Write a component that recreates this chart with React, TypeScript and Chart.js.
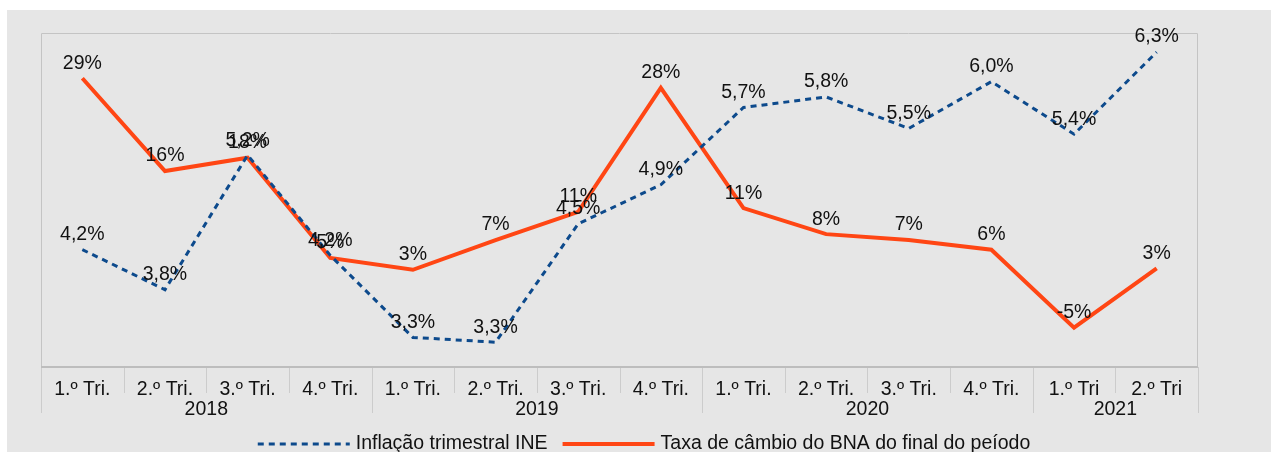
import React, { useEffect, useRef } from "react";
import { Chart, registerables } from "chart.js";

Chart.register(...registerables);

const quarterLabels = [
  "1.º Tri.", "2.º Tri.", "3.º Tri.", "4.º Tri.",
  "1.º Tri.", "2.º Tri.", "3.º Tri.", "4.º Tri.",
  "1.º Tri.", "2.º Tri.", "3.º Tri.", "4.º Tri.",
  "1.º Tri", "2.º Tri",
];
const yearGroups = [
  { label: "2018", from: 0, to: 3 },
  { label: "2019", from: 4, to: 7 },
  { label: "2020", from: 8, to: 11 },
  { label: "2021", from: 12, to: 13 },
];
const inflationName = "Inflação trimestral INE";
const inflation = [4.23, 3.81, 5.22, 4.17, 3.31, 3.26, 4.5, 4.91, 5.72, 5.83, 5.5, 5.99, 5.44, 6.3];
const fxName = "Taxa de câmbio do BNA do final do peíodo";
const fxRate = [28.9, 16.4, 18.2, 4.7, 3.1, 7.1, 10.9, 27.6, 11.4, 7.9, 7.1, 5.8, -4.7, 3.3];

const FONT = "'Liberation Sans', Arial, sans-serif";
const FS = 19.5;
const BLUE = "#0d4a8c";
const ORANGE = "#ff4614";

const decor = {
  id: "decor",
  afterDraw(chart: any) {
    const { ctx, chartArea: a, scales } = chart;
    const x = scales.x;
    ctx.save();
    // plot border
    ctx.strokeStyle = "#c4c4c4";
    ctx.lineWidth = 1;
    ctx.beginPath();
    ctx.moveTo(a.left + 0.5, a.bottom);
    ctx.lineTo(a.left + 0.5, a.top + 0.5);
    ctx.lineTo(a.right - 0.5, a.top + 0.5);
    ctx.lineTo(a.right - 0.5, a.bottom);
    ctx.stroke();
    // separators
    const n = quarterLabels.length;
    const step = (a.right - a.left) / n;
    ctx.strokeStyle = "#cccccc";
    for (let i = 0; i <= n; i++) {
      const px = Math.round(a.left + i * step) + 0.5;
      const isYear = i === 0 || i === n || yearGroups.some((g) => g.from === i);
      ctx.beginPath();
      ctx.moveTo(px, a.bottom);
      ctx.lineTo(px, a.bottom + (isYear ? 46 : 26));
      ctx.stroke();
    }
    // axis line
    ctx.strokeStyle = "#bdbdbd";
    ctx.lineWidth = 2;
    ctx.beginPath();
    ctx.moveTo(a.left, a.bottom);
    ctx.lineTo(a.right, a.bottom);
    ctx.stroke();
    // year labels
    ctx.fillStyle = "#111";
    ctx.font = `${FS}px ${FONT}`;
    ctx.textAlign = "center";
    ctx.textBaseline = "middle";
    yearGroups.forEach((g) => {
      const cx = (x.getPixelForValue(g.from) + x.getPixelForValue(g.to)) / 2;
      ctx.fillText(g.label, cx, a.bottom + 43);
    });
    // data labels
    chart.data.datasets.forEach((ds: any, di: number) => {
      const meta = chart.getDatasetMeta(di);
      meta.data.forEach((pt: any, i: number) => {
        const v = ds.data[i];
        const txt = di === 0 ? v.toFixed(1).replace(".", ",") + "%" : Math.round(v) + "%";
        ctx.fillText(txt, pt.x, pt.y - 15);
      });
    });
    // legend
    const ly = 434;
    const w1 = ctx.measureText(inflationName).width;
    const w2 = ctx.measureText(fxName).width;
    const lineLen = 92;
    const total = lineLen + 6 + w1 + 15 + lineLen + 6 + w2;
    let sx = 637 - total / 2;
    ctx.lineWidth = 3;
    ctx.strokeStyle = BLUE;
    ctx.setLineDash([6, 5]);
    ctx.beginPath();
    ctx.moveTo(sx, ly);
    ctx.lineTo(sx + lineLen, ly);
    ctx.stroke();
    ctx.setLineDash([]);
    sx += lineLen + 6;
    ctx.textAlign = "left";
    ctx.fillText(inflationName, sx, ly);
    sx += w1 + 15;
    ctx.lineWidth = 4;
    ctx.strokeStyle = ORANGE;
    ctx.beginPath();
    ctx.moveTo(sx, ly);
    ctx.lineTo(sx + lineLen, ly);
    ctx.stroke();
    sx += lineLen + 6;
    ctx.fillText(fxName, sx, ly);
    ctx.restore();
  },
};

export default function App() {
  const ref = useRef<HTMLCanvasElement | null>(null);
  useEffect(() => {
    if (!ref.current) return;
    Chart.defaults.font.family = FONT;
    Chart.defaults.font.size = FS;
    Chart.defaults.color = "#111";
    const chart = new Chart(ref.current, {
      type: "line",
      data: {
        labels: quarterLabels,
        datasets: [
          {
            label: inflationName,
            data: inflation,
            borderColor: BLUE,
            backgroundColor: BLUE,
            borderWidth: 3,
            borderDash: [6, 5],
            pointRadius: 0,
            tension: 0,
            yAxisID: "yInf",
          },
          {
            label: fxName,
            data: fxRate,
            borderColor: ORANGE,
            backgroundColor: ORANGE,
            borderWidth: 4,
            pointRadius: 0,
            tension: 0,
            yAxisID: "yFx",
          },
        ],
      },
      options: {
        animation: false,
        responsive: true,
        maintainAspectRatio: false,
        layout: { padding: { left: 34, right: 73, top: 23, bottom: 39 } },
        plugins: { legend: { display: false }, tooltip: { enabled: false } },
        scales: {
          x: {
            offset: true,
            grid: { display: false, drawTicks: false },
            border: { display: false },
            ticks: { padding: 11, maxRotation: 0, autoSkip: false, color: "#111", font: { size: FS } },
            afterFit: (s: any) => {
              s.height = 46;
            },
          },
          yInf: { display: false, min: 3, max: 6.5 },
          yFx: { display: false, min: -10, max: 35 },
        },
      },
      plugins: [decor],
    });
    return () => chart.destroy();
  }, []);
  return (
    <div
      style={{
        position: "absolute",
        left: 7,
        top: 10,
        width: 1264,
        height: 442,
        background: "#e6e6e6",
      }}
    >
      <canvas ref={ref} />
    </div>
  );
}
